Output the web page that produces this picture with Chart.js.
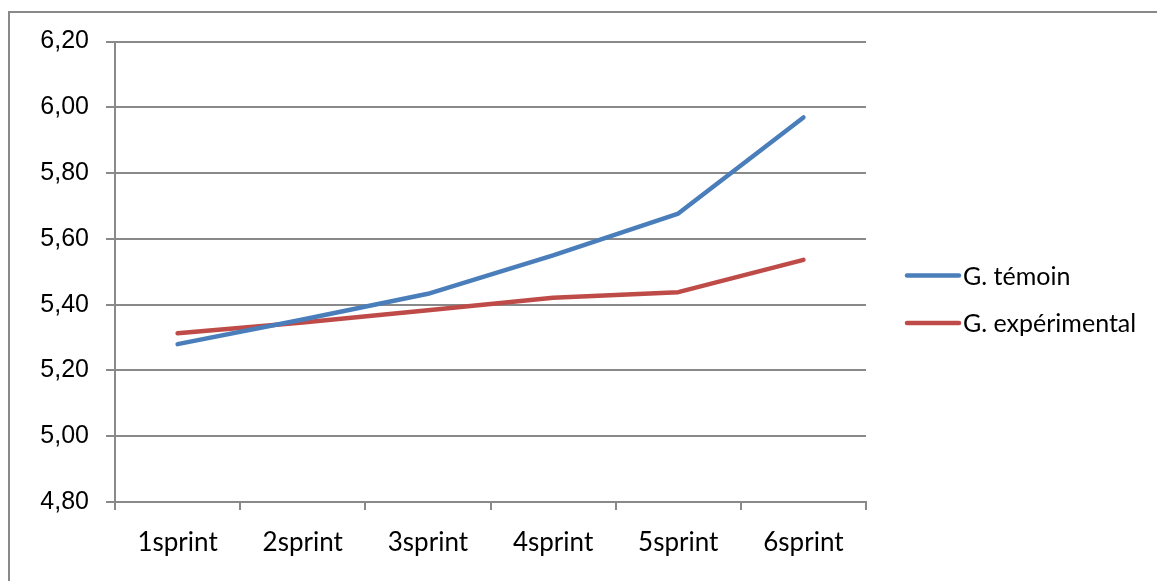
<!DOCTYPE html>
<html>
<head>
<meta charset="utf-8">
<script src="https://cdn.jsdelivr.net/npm/chart.js@4/dist/chart.umd.min.js"></script>
<style>
  html, body { margin: 0; padding: 0; background: #ffffff; }
  #wrap { position: relative; width: 1157px; height: 581px; overflow: hidden; }
  canvas { display: block; }
</style>
</head>
<body>
<div id="wrap"><canvas id="chart" width="1157" height="581"></canvas></div>
<script>
// Sprint times per group over six repetitions
const categories = ['1sprint', '2sprint', '3sprint', '4sprint', '5sprint', '6sprint'];
const temoinValues = [5.28, 5.355, 5.433, 5.55, 5.677, 5.969];
const experimentalValues = [5.313, 5.346, 5.383, 5.421, 5.438, 5.536];
const seriesLabels = ['G. témoin', 'G. expérimental'];
const yTicks = { min: 4.8, max: 6.2, step: 0.2 };

const GRID = '#898989';
const BLUE = '#4A7EBB';
const RED = '#BE4B48';

// Outer frame and the side legend
const framePlugin = {
  id: 'frameAndLegend',
  beforeDraw(chart) {
    const ctx = chart.ctx;
    ctx.save();
    ctx.fillStyle = '#ffffff';
    ctx.fillRect(0, 0, chart.width, chart.height);
    ctx.strokeStyle = GRID;
    ctx.lineWidth = 2;
    ctx.beginPath();
    ctx.moveTo(9, chart.height + 5);
    ctx.lineTo(9, 12);
    ctx.lineTo(chart.width + 5, 12);
    ctx.stroke();
    ctx.restore();
  },
  afterDraw(chart) {
    const ctx = chart.ctx;
    const rows = [275.5, 323];
    ctx.save();
    chart.data.datasets.forEach((ds, i) => {
      const y = rows[i];
      ctx.strokeStyle = ds.borderColor;
      ctx.lineWidth = ds.borderWidth;
      ctx.lineCap = 'round';
      ctx.beginPath();
      ctx.moveTo(907, y);
      ctx.lineTo(959, y);
      ctx.stroke();
      ctx.fillStyle = '#000000';
      ctx.font = '25px Lato, "Open Sans", sans-serif';
      ctx.textBaseline = 'middle';
      ctx.textAlign = 'left';
      ctx.fillText(ds.label, 963, y + 1);
    });
    ctx.restore();
  }
};

new Chart(document.getElementById('chart'), {
  type: 'line',
  data: {
    labels: categories,
    datasets: [
      {
        label: seriesLabels[0],
        data: temoinValues,
        borderColor: BLUE,
        backgroundColor: BLUE,
        borderWidth: 4.5,
        borderCapStyle: 'round',
        borderJoinStyle: 'round',
        pointRadius: 0,
        tension: 0
      },
      {
        label: seriesLabels[1],
        data: experimentalValues,
        borderColor: RED,
        backgroundColor: RED,
        borderWidth: 4.5,
        borderCapStyle: 'round',
        borderJoinStyle: 'round',
        pointRadius: 0,
        tension: 0
      }
    ]
  },
  options: {
    responsive: false,
    animation: false,
    events: [],
    layout: { padding: { left: 0, right: 291, top: 41.5, bottom: 0 } },
    plugins: {
      legend: { display: false },
      tooltip: { enabled: false }
    },
    scales: {
      x: {
        type: 'category',
        offset: true,
        afterFit(scale) { scale.height = 79; },
        grid: {
          display: true,
          offset: true,
          drawOnChartArea: false,
          drawTicks: true,
          tickLength: 8,
          color: GRID,
          lineWidth: 2
        },
        border: { display: true, color: GRID, width: 2 },
        ticks: {
          color: '#000000',
          padding: 17,
          maxRotation: 0,
          font: { family: 'Lato, "Open Sans", sans-serif', size: 26 }
        }
      },
      y: {
        min: yTicks.min,
        max: yTicks.max,
        afterFit(scale) { scale.width = 115; },
        grid: {
          color: GRID,
          lineWidth: 2,
          drawTicks: true,
          tickLength: 9
        },
        border: { display: true, color: GRID, width: 2 },
        ticks: {
          stepSize: yTicks.step,
          color: '#000000',
          padding: 17,
          font: { family: '"Liberation Sans", Arial, sans-serif', size: 25 },
          callback: (v) => Number(v).toFixed(2).replace('.', ',')
        }
      }
    }
  },
  plugins: [framePlugin]
});
</script>
</body>
</html>
